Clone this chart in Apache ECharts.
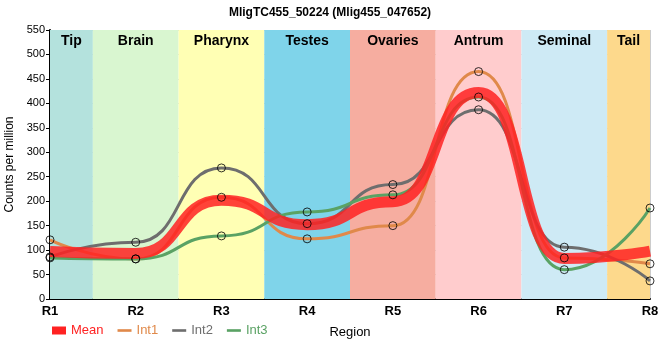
<!DOCTYPE html>
<html><head><meta charset="utf-8">
<script src="https://cdn.jsdelivr.net/npm/echarts@6/dist/echarts.min.js"></script>
<style>html,body{margin:0;padding:0;background:#fff}#c{width:660px;height:360px}</style>
</head><body><div id="c"></div>
<script>
const categories = ['R1','R2','R3','R4','R5','R6','R7','R8'];
const meanVals = [97, 93, 202, 152, 199, 422, 83, 98];
const int1Vals = [121, 82, 208, 123, 150, 465, 84, 72];
const int2Vals = [86, 116, 268, 154, 234, 387, 106, 37];
const int3Vals = [84, 82, 129, 178, 213, 413, 60, 186];
const bandNames = ['Tip','Brain','Pharynx','Testes','Ovaries','Antrum','Seminal','Tail'];
const bandColors = ['#b4e2dd','#d9f6d0','#ffffb4','#7fd4ea','#f6ada0','#ffcccd','#ceeaf5','#fdd98c'];
const yTicks = {min:0, max:550, interval:50};

const FONT = '"Liberation Sans Narrow", "Liberation Sans", Arial, sans-serif';
const toXY = arr => arr.map((v,i)=>[i,v]);
const n = categories.length;
const bands = bandNames.map((nm,i)=>[
  {name:nm, xAxis: Math.max(0,i-0.5), itemStyle:{color:bandColors[i]}},
  {xAxis: Math.min(n-1,i+0.5)}
]);
const cMean='#ff2222', c1='#e0894a', c2='#6e6e6e', c3='#5aa264';
const lineSeries = (name, vals, color) => ({
  name, type:'line', data: toXY(vals), smooth:0.55, smoothMonotone:'x',
  showSymbol:false, symbol:'none', z:3,
  lineStyle:{color, width:3}, itemStyle:{color}
});
const chart = echarts.init(document.getElementById('c'), null, {renderer:'canvas'});
chart.setOption({
  animation:false,
  textStyle:{fontFamily:FONT},
  title:{text:'MligTC455_50224 (Mlig455_047652)', left:'center', top:2,
    textStyle:{fontFamily:FONT, fontSize:12, fontWeight:'bold', color:'#000'}},
  grid:{left:50, right:10, top:30, bottom:61, containLabel:false, outerBoundsMode:'none'},
  legend:{left:47, bottom:18, itemGap:14, itemWidth:14, itemHeight:8,
    textStyle:{fontFamily:FONT, fontSize:13},
    data:[
      {name:'Mean', icon:'rect', textStyle:{color:cMean}},
      {name:'Int1', icon:'path://M0,0L16,0L16,3L0,3Z', textStyle:{color:c1}},
      {name:'Int2', icon:'path://M0,0L16,0L16,3L0,3Z', textStyle:{color:c2}},
      {name:'Int3', icon:'path://M0,0L16,0L16,3L0,3Z', textStyle:{color:c3}}
    ]},
  xAxis:{type:'value', min:0, max:n-1, interval:1,
    name:'Region', nameLocation:'middle', nameGap:27,
    nameTextStyle:{fontFamily:FONT, fontSize:13, color:'#000'},
    axisLine:{lineStyle:{color:'#000', width:2}},
    axisTick:{show:false},
    axisLabel:{formatter:v=>categories[v]||'', fontFamily:FONT, fontSize:13, fontWeight:'bold', color:'#000', margin:6},
    splitLine:{show:true, lineStyle:{color:'#cccccc', width:1}}},
  yAxis:{type:'value', min:yTicks.min, max:yTicks.max, interval:yTicks.interval,
    name:'Counts per million', nameLocation:'middle', nameGap:30,
    nameTextStyle:{fontFamily:FONT, fontSize:12, color:'#000'},
    axisLine:{show:true, lineStyle:{color:'#000', width:2}},
    axisTick:{show:true, length:4, lineStyle:{color:'#000'}},
    axisLabel:{fontFamily:FONT, fontSize:11, color:'#000', margin:5},
    splitLine:{show:true, lineStyle:{color:'#cccccc', width:1}}},
  series:[
    {type:'line', data:[], z:-1, silent:true,
      markArea:{silent:true, data:bands,
        label:{show:true, position:'insideTop', distance:4, color:'#000',
          fontFamily:FONT, fontSize:14, fontWeight:'bold'}}},
    lineSeries('Int1', int1Vals, c1),
    lineSeries('Int2', int2Vals, c2),
    lineSeries('Int3', int3Vals, c3),
    {name:'Mean', type:'line', data:toXY(meanVals), smooth:0.55, smoothMonotone:'x',
      symbol:'none', z:4, lineStyle:{color:cMean, width:11, opacity:0.85}, itemStyle:{color:cMean}},
    {type:'scatter', z:6, symbol:'circle', symbolSize:8, silent:true,
      data: toXY(int1Vals).concat(toXY(int2Vals), toXY(int3Vals)),
      itemStyle:{color:'rgba(255,255,255,0)', borderColor:'#000', borderWidth:1}}
  ]
});
</script></body></html>
